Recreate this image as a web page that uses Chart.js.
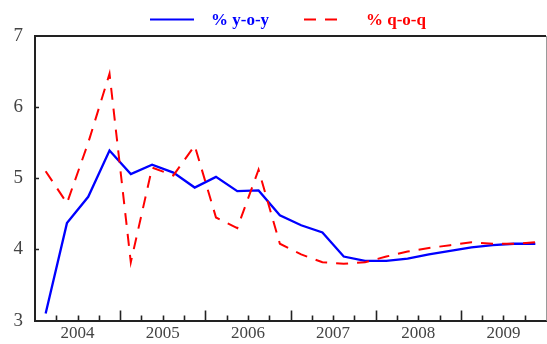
<!DOCTYPE html>
<html>
<head>
<meta charset="utf-8">
<script src="https://cdn.jsdelivr.net/npm/chart.js@4/dist/chart.umd.min.js"></script>
<style>
  html, body { margin: 0; padding: 0; background: #ffffff; }
  #wrap { width: 547px; height: 344px; }
</style>
</head>
<body>
<div id="wrap"><canvas id="c" width="547" height="344"></canvas></div>
<script>
// Year labels along the bottom axis, one per four quarters
const years = ['2004', '2005', '2006', '2007', '2008', '2009'];

// Quarterly periods plotted on the x axis
const quarters = [
  '2004Q1', '2004Q2', '2004Q3', '2004Q4',
  '2005Q1', '2005Q2', '2005Q3', '2005Q4',
  '2006Q1', '2006Q2', '2006Q3', '2006Q4',
  '2007Q1', '2007Q2', '2007Q3', '2007Q4',
  '2008Q1', '2008Q2', '2008Q3', '2008Q4',
  '2009Q1', '2009Q2', '2009Q3', '2009Q4'
];

// Year-on-year growth, %
const yoy = [3.10, 4.37, 4.74, 5.39, 5.06, 5.19, 5.08, 4.87,
             5.02, 4.82, 4.83, 4.48, 4.34, 4.24, 3.90, 3.84,
             3.84, 3.87, 3.93, 3.98, 4.03, 4.06, 4.08, 4.08];

// Quarter-on-quarter growth (annualised), %
const qoq = [5.10, 4.65, 5.50, 6.47, 3.82, 5.15, 5.04, 5.46,
             4.45, 4.30, 5.12, 4.08, 3.93, 3.82, 3.80, 3.82,
             3.90, 3.97, 4.02, 4.06, 4.10, 4.08, 4.08, 4.10];

const seriesNames = ['% y-o-y', '% q-o-q'];
const yTicks = [3, 4, 5, 6, 7];

const SERIF = '"Liberation Serif", "Times New Roman", serif';
const BLUE = '#0000ff';
const RED = '#ff0000';
const INK = '#222222';
const LABEL = '#444444';

// Key drawn above the plot: a line sample followed by the series name
const keyLegend = {
  id: 'keyLegend',
  afterDraw(chart, args, opts) {
    const ctx = chart.ctx;
    ctx.save();
    ctx.font = 'bold 17px ' + SERIF;
    ctx.textBaseline = 'alphabetic';
    chart.data.datasets.forEach((ds, i) => {
      const slot = opts.slots[i];
      ctx.strokeStyle = ds.borderColor;
      ctx.lineWidth = 2;
      ctx.setLineDash(ds.borderDash || []);
      ctx.beginPath();
      ctx.moveTo(slot.lineFrom, opts.lineY);
      ctx.lineTo(slot.lineTo, opts.lineY);
      ctx.stroke();
      ctx.setLineDash([]);
      ctx.fillStyle = ds.borderColor;
      ctx.fillText(ds.label, slot.textAt, opts.textY);
    });
    ctx.restore();
  }
};

// Closed frame with tick marks pointing into the plot
const frameTicks = {
  id: 'frameTicks',
  afterDraw(chart) {
    const { ctx, chartArea: a, scales: { x, y } } = chart;
    ctx.save();
    ctx.strokeStyle = INK;
    ctx.lineWidth = 1.6;
    ctx.beginPath();
    for (let i = 1; i < quarters.length; i++) {
      const px = Math.round(x.getPixelForValue(i)) + 0.5;
      const len = (i % 4 === 0) ? 10 : 5;
      ctx.moveTo(px, a.bottom);
      ctx.lineTo(px, a.bottom - len);
    }
    yTicks.forEach(v => {
      if (v <= y.min || v >= y.max) return;
      const py = Math.round(y.getPixelForValue(v)) + 0.5;
      ctx.moveTo(a.left, py);
      ctx.lineTo(a.left + 4, py);
    });
    ctx.stroke();

    ctx.lineWidth = 2;
    ctx.beginPath();
    ctx.moveTo(a.left - 1, a.top);
    ctx.lineTo(a.right, a.top);
    ctx.stroke();

    ctx.strokeStyle = '#9a9a9a';
    ctx.lineWidth = 1;
    ctx.beginPath();
    ctx.moveTo(a.right + 0.5, a.top);
    ctx.lineTo(a.right + 0.5, a.bottom);
    ctx.stroke();
    ctx.restore();
  }
};

const toPoints = arr => arr.map((v, i) => ({ x: i + 0.5, y: v }));

new Chart(document.getElementById('c'), {
  type: 'line',
  data: {
    datasets: [
      {
        label: seriesNames[0],
        data: toPoints(yoy),
        borderColor: BLUE,
        borderWidth: 2.3,
        pointRadius: 0,
        tension: 0,
        order: 1
      },
      {
        label: seriesNames[1],
        data: toPoints(qoq),
        borderColor: RED,
        borderWidth: 2,
        borderDash: [12, 9],
        pointRadius: 0,
        tension: 0,
        order: 0
      }
    ]
  },
  options: {
    responsive: false,
    animation: false,
    devicePixelRatio: 1,
    layout: { padding: { top: 36, right: 1, left: 0, bottom: 0 } },
    plugins: {
      legend: { display: false },
      tooltip: { enabled: false },
      keyLegend: {
        lineY: 19.5,
        textY: 24.5,
        slots: [
          { lineFrom: 150, lineTo: 194, textAt: 211 },
          { lineFrom: 304, lineTo: 342, textAt: 366 }
        ]
      }
    },
    scales: {
      x: {
        type: 'linear',
        min: 0,
        max: quarters.length,
        afterFit(scale) { scale.height = 21; },
        afterBuildTicks(scale) {
          scale.ticks = years.map((yr, k) => ({ value: k * 4 + 2 }));
        },
        grid: { display: true, drawOnChartArea: false, drawTicks: false },
        border: { display: true, color: INK, width: 2 },
        ticks: {
          autoSkip: false,
          maxRotation: 0,
          padding: 3,
          color: LABEL,
          font: { family: SERIF, size: 17 },
          callback: (v) => years[Math.round((v - 2) / 4)]
        }
      },
      y: {
        type: 'linear',
        min: yTicks[0],
        max: yTicks[yTicks.length - 1],
        afterFit(scale) { scale.width = 35; },
        afterBuildTicks(scale) {
          scale.ticks = yTicks.map(v => ({ value: v }));
        },
        grid: { display: true, drawOnChartArea: false, drawTicks: false },
        border: { display: true, color: INK, width: 2 },
        ticks: {
          padding: 12,
          color: LABEL,
          font: { family: SERIF, size: 19 }
        }
      }
    }
  },
  plugins: [keyLegend, frameTicks]
});
</script>
</body>
</html>
